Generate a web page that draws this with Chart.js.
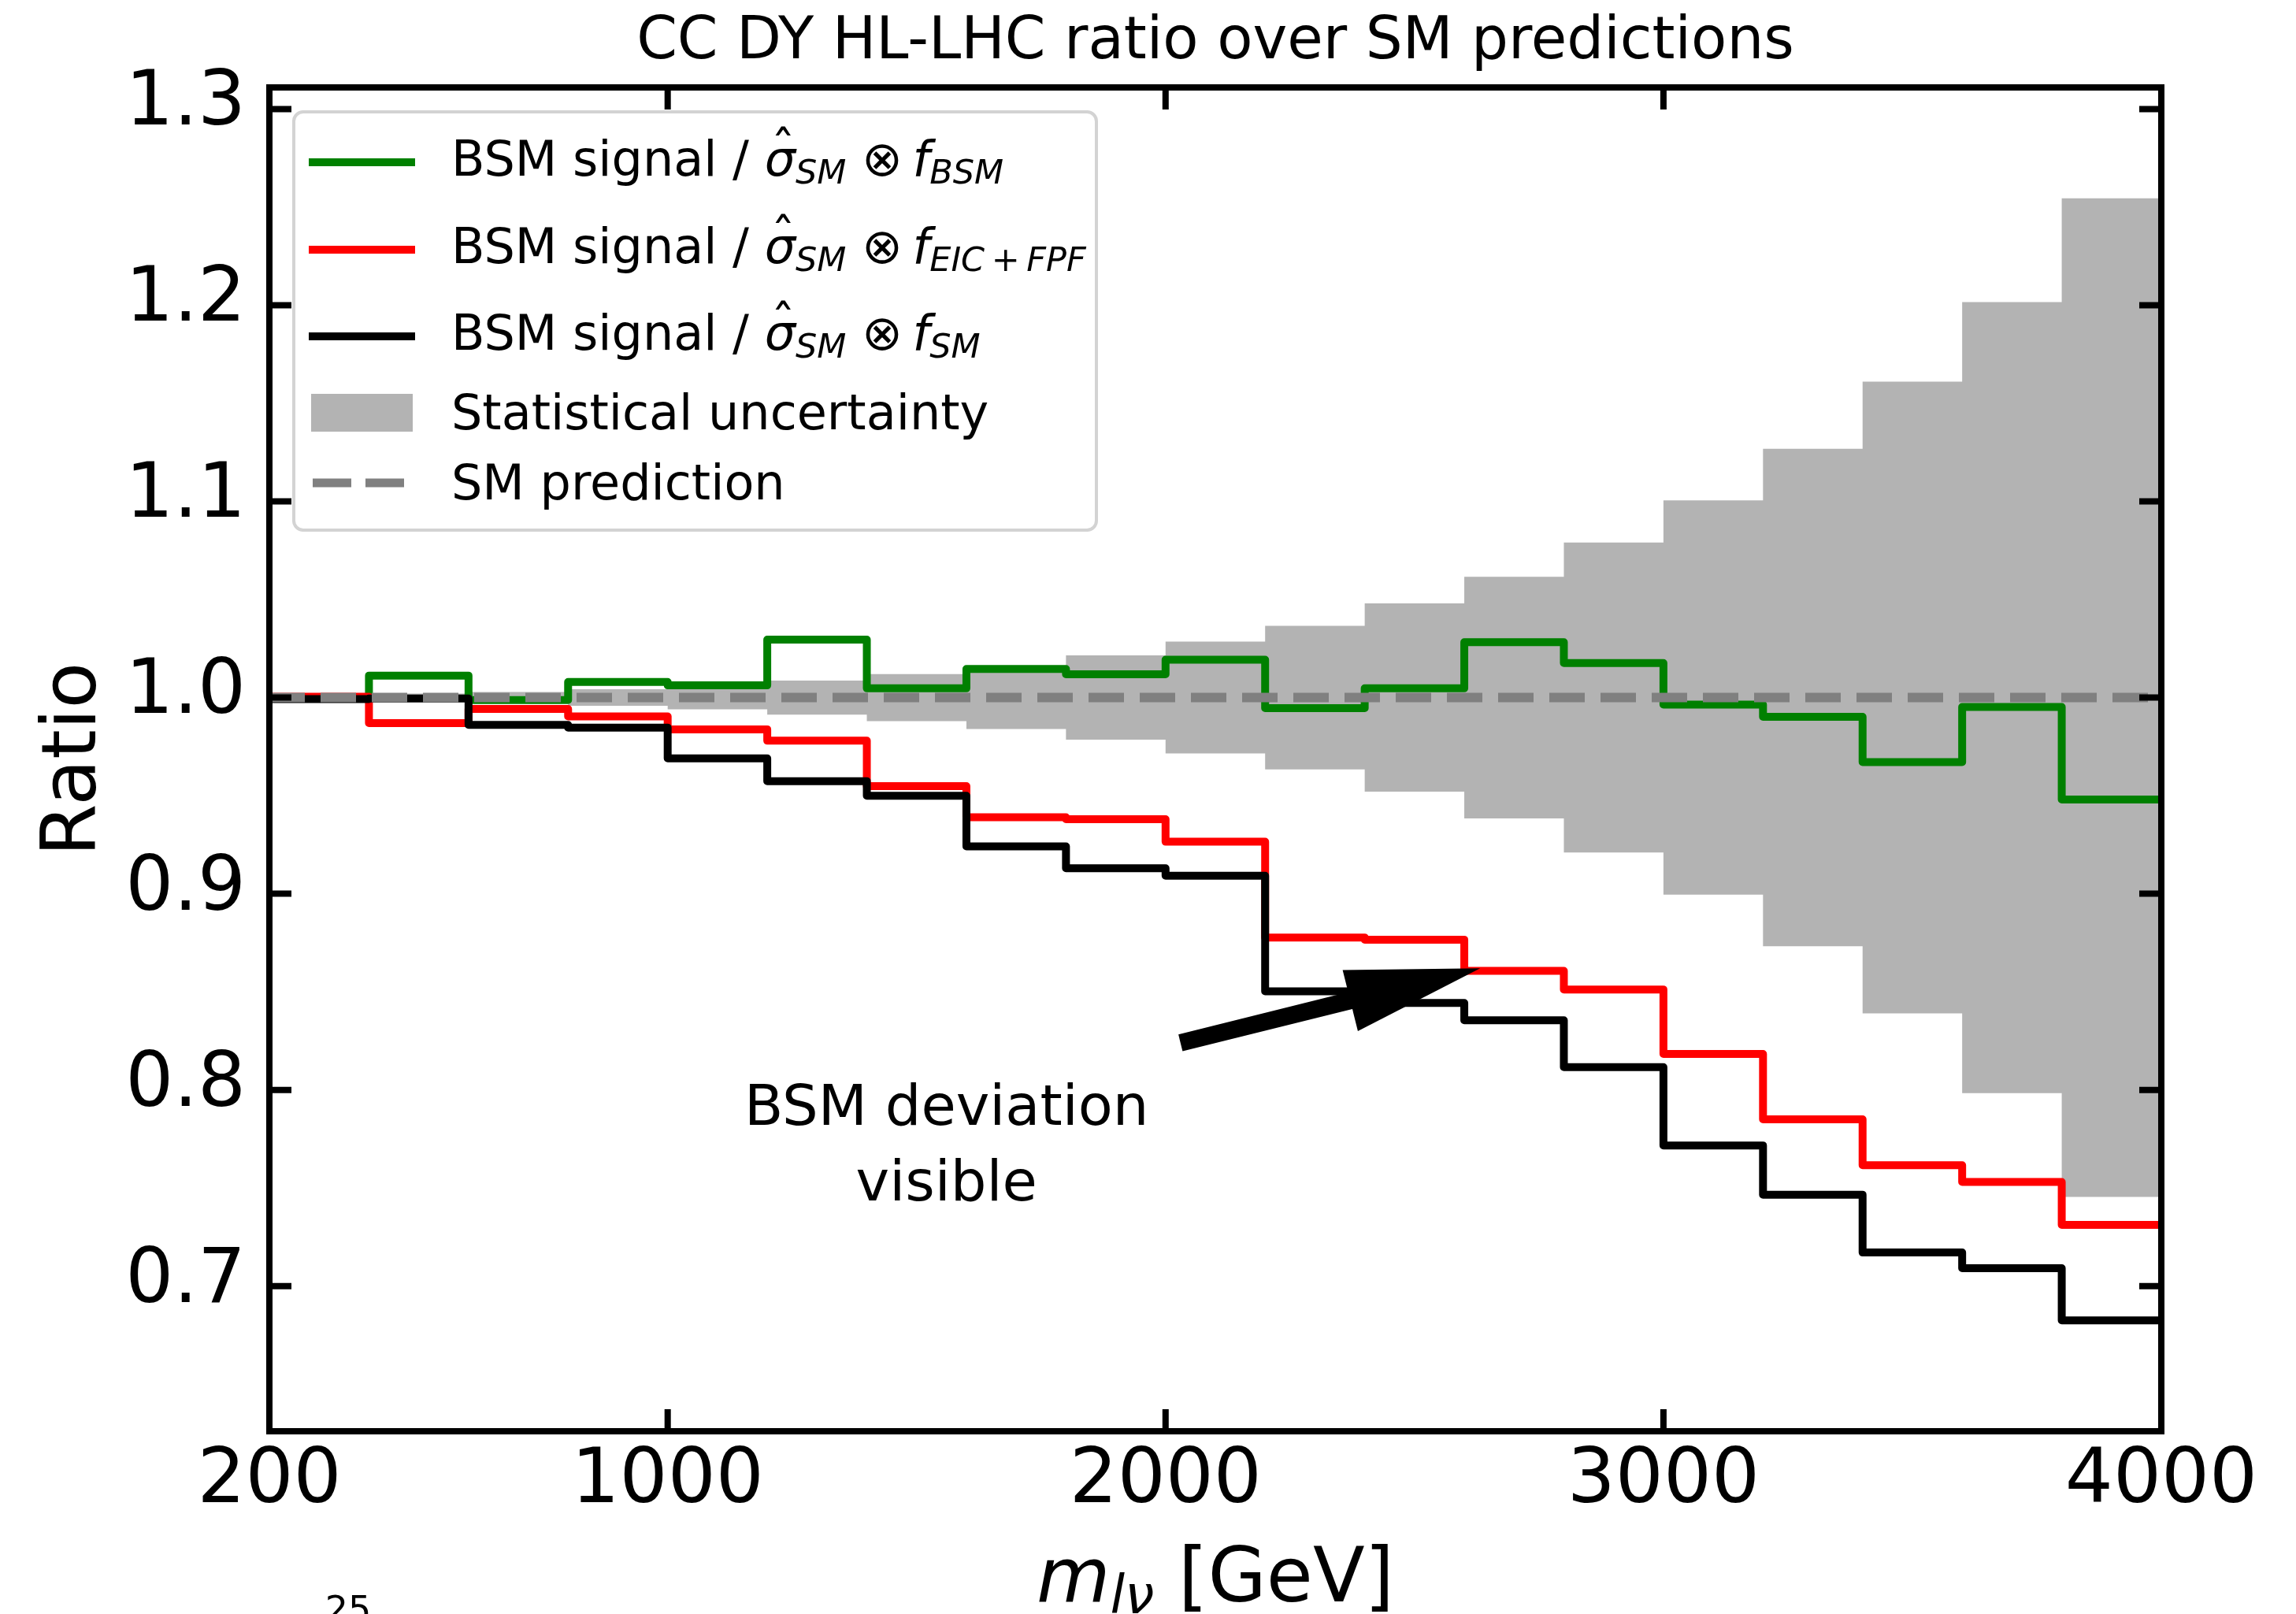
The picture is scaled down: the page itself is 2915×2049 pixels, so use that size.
<!DOCTYPE html>
<html lang="en">
<head>
  <meta charset="UTF-8">
  <title>CC DY HL-LHC ratio over SM predictions</title>
  <script src="https://cdn.jsdelivr.net/npm/chart.js"></script>
  <style>
    html, body { margin: 0; padding: 0; background: #fff; }
    #wrap { width: 2915px; height: 2049px; }
  </style>
</head>
<body>
  <div id="wrap">
    <canvas id="ratioChart" width="2915" height="2049"></canvas>
  </div>

  <script>
    // bin edges in m_lnu [GeV]
    const binEdges = [200, 400, 600, 800, 1000, 1200, 1400, 1600, 1800, 2000,
                      2200, 2400, 2600, 2800, 3000, 3200, 3400, 3600, 3800, 4000];

    // BSM signal / sigma_SM x f_BSM
    const ratioBSM = [1.0, 1.0112, 0.9987, 1.0079, 1.0062, 1.0295, 1.0047, 1.0146, 1.0119, 1.0193,
                      0.9946, 1.0047, 1.0282, 1.0176, 0.9964, 0.9902, 0.9671, 0.9952, 0.948];
    // BSM signal / sigma_SM x f_EIC+FPF
    const ratioEICFPF = [1.0004, 0.987, 0.9942, 0.9904, 0.9838, 0.978, 0.9548, 0.939, 0.938, 0.9265,
                         0.8777, 0.8766, 0.8607, 0.8512, 0.8183, 0.785, 0.7616, 0.7531, 0.7312];
    // BSM signal / sigma_SM x f_SM
    const ratioSM = [0.9992, 0.9995, 0.9861, 0.9847, 0.969, 0.9574, 0.9499, 0.9241, 0.913, 0.9092,
                     0.8503, 0.8443, 0.8355, 0.8116, 0.7717, 0.7466, 0.7171, 0.7091, 0.6825];
    // relative statistical uncertainty per bin
    const statUnc = [0.0015, 0.002, 0.0028, 0.0042, 0.006, 0.0087, 0.012, 0.016, 0.0215, 0.0285,
                     0.0366, 0.048, 0.0616, 0.079, 0.1005, 0.1268, 0.161, 0.2016, 0.2545];

    const xTicks = [200, 1000, 2000, 3000, 4000];
    const yTicks = [0.7, 0.8, 0.9, 1.0, 1.1, 1.2, 1.3];

    // annotation (data coordinates)
    const annText = { x: 1560, y: 0.782 };
    const arrowFrom = { x: 2030, y: 0.824 };
    const arrowTo = { x: 2632, y: 0.862 };

    const FONT = '"DejaVu Sans", "Liberation Sans", sans-serif';
    Chart.defaults.font.family = FONT;
    Chart.defaults.color = '#000';

    // histogram -> step points (value held until next edge)
    function stepPoints(vals) {
      const pts = vals.map((v, i) => ({ x: binEdges[i], y: v }));
      pts.push({ x: binEdges[vals.length], y: vals[vals.length - 1] });
      return pts;
    }

    const bandHigh = statUnc.map(u => 1 + u);
    const bandLow = statUnc.map(u => 1 - u);

    function histLine(vals, color, order) {
      return {
        data: stepPoints(vals),
        stepped: true,
        borderColor: color,
        borderWidth: 10,
        borderJoinStyle: 'round',
        borderCapStyle: 'butt',
        pointRadius: 0,
        fill: false,
        clip: 0,
        order: order
      };
    }

    // inward ticks on all sides + frame
    const framePlugin = {
      id: 'frame',
      afterDatasetsDraw(chart) {
        const ctx = chart.ctx;
        const a = chart.chartArea;
        const xs = chart.scales.x, ys = chart.scales.y;
        const tl = 28;
        ctx.save();
        ctx.strokeStyle = '#000';
        ctx.lineWidth = 8;
        ctx.lineCap = 'butt';
        xTicks.forEach(v => {
          const px = xs.getPixelForValue(v);
          ctx.beginPath();
          ctx.moveTo(px, a.bottom); ctx.lineTo(px, a.bottom - tl);
          ctx.moveTo(px, a.top); ctx.lineTo(px, a.top + tl);
          ctx.stroke();
        });
        yTicks.forEach(v => {
          const py = ys.getPixelForValue(v);
          ctx.beginPath();
          ctx.moveTo(a.left, py); ctx.lineTo(a.left + tl, py);
          ctx.moveTo(a.right, py); ctx.lineTo(a.right - tl, py);
          ctx.stroke();
        });
        ctx.strokeRect(a.left, a.top, a.right - a.left, a.bottom - a.top);
        ctx.restore();
      }
    };

    // arrow + "BSM deviation visible"
    const annotationPlugin = {
      id: 'annot',
      afterDatasetsDraw(chart) {
        const ctx = chart.ctx;
        const xs = chart.scales.x, ys = chart.scales.y;
        const x0 = xs.getPixelForValue(arrowFrom.x), y0 = ys.getPixelForValue(arrowFrom.y);
        const x1 = xs.getPixelForValue(arrowTo.x), y1 = ys.getPixelForValue(arrowTo.y);
        const ang = Math.atan2(y1 - y0, x1 - x0);
        const headLen = 170, headHalf = 40;
        const bx = x1 - headLen * Math.cos(ang), by = y1 - headLen * Math.sin(ang);
        ctx.save();
        ctx.strokeStyle = '#000';
        ctx.fillStyle = '#000';
        ctx.lineWidth = 22;
        ctx.beginPath();
        ctx.moveTo(x0, y0);
        ctx.lineTo(bx + 2 * Math.cos(ang), by + 2 * Math.sin(ang));
        ctx.stroke();
        ctx.beginPath();
        ctx.moveTo(x1, y1);
        ctx.lineTo(bx - headHalf * Math.sin(ang), by + headHalf * Math.cos(ang));
        ctx.lineTo(bx + headHalf * Math.sin(ang), by - headHalf * Math.cos(ang));
        ctx.closePath();
        ctx.fill();

        const tx = xs.getPixelForValue(annText.x), ty = ys.getPixelForValue(annText.y);
        ctx.font = '72px ' + FONT;
        ctx.textAlign = 'center';
        ctx.textBaseline = 'alphabetic';
        ctx.fillText('BSM deviation', tx, ty);
        ctx.fillText('visible', tx, ty + 96);
        ctx.restore();
      }
    };

    // draw a row of text runs (for math-like labels)
    function drawRuns(ctx, x, y, runs) {
      ctx.textAlign = 'left';
      ctx.textBaseline = 'alphabetic';
      runs.forEach(r => {
        ctx.font = r.font;
        ctx.fillText(r.t, x, y + (r.dy || 0));
        const w = ctx.measureText(r.t).width;
        if (r.hat) {
          ctx.save();
          ctx.textAlign = 'center';
          ctx.font = r.hatFont;
          ctx.fillText('\u02C6', x + w / 2 + 4, y - r.hatLift);
          ctx.restore();
        }
        x += w;
      });
      return x;
    }
    function runsWidth(ctx, runs) {
      let w = 0;
      runs.forEach(r => { ctx.font = r.font; w += ctx.measureText(r.t).width; });
      return w;
    }

    const LREG = '62px ' + FONT, LIT = 'italic 62px ' + FONT, LSUB = 'italic 43px ' + FONT;
    function sigmaRuns(sub) {
      return [
        { t: 'BSM signal / ', font: LREG },
        { t: '\u03C3', font: LIT, hat: true, hatFont: '62px ' + FONT, hatLift: 12 },
        { t: 'SM', font: LSUB, dy: 10 },
        { t: ' \u2297\u2009', font: LREG },
        { t: 'f', font: LIT },
        { t: sub, font: LSUB, dy: 10 }
      ];
    }
    const legendItems = [
      { kind: 'line', color: 'green', runs: sigmaRuns('BSM'), base: 81 },
      { kind: 'line', color: 'red', runs: sigmaRuns('EIC\u2009+\u2009FPF'), base: 192 },
      { kind: 'line', color: '#000', runs: sigmaRuns('SM'), base: 302 },
      { kind: 'patch', color: '#b3b3b3', runs: [{ t: 'Statistical uncertainty', font: LREG }], base: 403 },
      { kind: 'dash', color: '#808080', runs: [{ t: 'SM prediction', font: LREG }], base: 492 }
    ];

    const legendPlugin = {
      id: 'mplLegend',
      afterDraw(chart) {
        const ctx = chart.ctx;
        const a = chart.chartArea;
        const bx = a.left + 31, by = a.top + 31, bw = 1019, bh = 531;
        ctx.save();
        ctx.beginPath();
        ctx.roundRect(bx, by, bw, bh, 12);
        ctx.fillStyle = 'rgba(255,255,255,0.8)';
        ctx.fill();
        ctx.lineWidth = 4;
        ctx.strokeStyle = '#d3d3d3';
        ctx.stroke();

        ctx.fillStyle = '#000';
        legendItems.forEach(it => {
          const base = by + it.base;
          if (it.kind === 'line') {
            ctx.strokeStyle = it.color;
            ctx.lineWidth = 10;
            ctx.setLineDash([]);
            ctx.beginPath();
            ctx.moveTo(bx + 19, base - 17); ctx.lineTo(bx + 154, base - 17);
            ctx.stroke();
          } else if (it.kind === 'patch') {
            ctx.fillStyle = it.color;
            ctx.fillRect(bx + 22, base - 45, 129, 48);
          } else {
            ctx.strokeStyle = it.color;
            ctx.lineWidth = 11;
            ctx.setLineDash([49, 18]);
            ctx.beginPath();
            ctx.moveTo(bx + 24, base - 21); ctx.lineTo(bx + 154, base - 21);
            ctx.stroke();
            ctx.setLineDash([]);
          }
          ctx.fillStyle = '#000';
          drawRuns(ctx, bx + 200, base, it.runs);
        });
        ctx.restore();
      }
    };

    // title and axis titles
    const titlesPlugin = {
      id: 'titles',
      afterDraw(chart) {
        const ctx = chart.ctx;
        const a = chart.chartArea;
        const cx = (a.left + a.right) / 2;
        ctx.save();
        ctx.fillStyle = '#000';
        ctx.textAlign = 'center';
        ctx.textBaseline = 'alphabetic';
        ctx.font = '74px ' + FONT;
        ctx.fillText('CC DY HL-LHC ratio over SM predictions', cx, 74);

        // y title
        ctx.save();
        ctx.translate(121, (a.top + a.bottom) / 2);
        ctx.rotate(-Math.PI / 2);
        ctx.font = '96px ' + FONT;
        ctx.fillText('Ratio', 0, 0);
        ctx.restore();

        // x title: m_{l nu} [GeV]
        const runs = [
          { t: 'm', font: 'italic 96px ' + FONT },
          { t: 'l\u03BD', font: 'italic 67px ' + FONT, dy: 15 },
          { t: ' [GeV]', font: '96px ' + FONT }
        ];
        const w = runsWidth(ctx, runs);
        drawRuns(ctx, cx - w / 2, 2033, runs);

        // page number fragment cut by the bottom edge
        ctx.font = '46px ' + FONT;
        ctx.textAlign = 'center';
        ctx.fillText('25', 442, 2059);
        ctx.restore();
      }
    };

    const ctx = document.getElementById('ratioChart').getContext('2d');
    new Chart(ctx, {
      type: 'line',
      data: {
        datasets: [
          {
            label: 'Statistical uncertainty',
            data: stepPoints(bandHigh),
            stepped: true,
            borderColor: 'rgba(0,0,0,0)',
            borderWidth: 0,
            backgroundColor: '#b3b3b3',
            pointRadius: 0,
            fill: '+1',
            clip: 0,
            order: 10
          },
          {
            label: 'band low',
            data: stepPoints(bandLow),
            stepped: true,
            borderColor: 'rgba(0,0,0,0)',
            borderWidth: 0,
            pointRadius: 0,
            fill: false,
            clip: 0,
            order: 11
          },
          Object.assign(histLine(ratioBSM, 'green', 4), { label: 'f_BSM' }),
          Object.assign(histLine(ratioEICFPF, 'red', 3), { label: 'f_EIC+FPF' }),
          Object.assign(histLine(ratioSM, '#000', 2), { label: 'f_SM' }),
          {
            label: 'SM prediction',
            data: [{ x: binEdges[0], y: 1.0 }, { x: binEdges[binEdges.length - 1], y: 1.0 }],
            borderColor: '#808080',
            borderWidth: 12,
            borderDash: [45, 20],
            pointRadius: 0,
            fill: false,
            clip: 0,
            order: 0
          }
        ]
      },
      options: {
        responsive: false,
        animation: false,
        devicePixelRatio: 1,
        layout: { padding: { top: 111, right: 171, left: 0, bottom: 0 } },
        plugins: {
          legend: { display: false },
          tooltip: { enabled: false },
          title: { display: false }
        },
        scales: {
          x: {
            type: 'linear',
            min: 200,
            max: 4000,
            afterBuildTicks: s => { s.ticks = xTicks.map(v => ({ value: v })); },
            afterFit: s => { s.height = 232; },
            grid: { display: false, drawTicks: false },
            border: { display: false },
            ticks: {
              font: { size: 96, lineHeight: 1.2 },
              color: '#000',
              padding: 7,
              maxRotation: 0,
              autoSkip: false,
              callback: v => String(v)
            }
          },
          y: {
            type: 'linear',
            min: 0.626,
            max: 1.311,
            afterBuildTicks: s => { s.ticks = yTicks.map(v => ({ value: v })); },
            afterFit: s => { s.width = 342; },
            grid: { display: false, drawTicks: false },
            border: { display: false },
            ticks: {
              font: { size: 96, lineHeight: 1.2 },
              color: '#000',
              padding: 30,
              labelOffset: -5,
              autoSkip: false,
              callback: v => v.toFixed(1)
            }
          }
        }
      },
      plugins: [framePlugin, annotationPlugin, legendPlugin, titlesPlugin]
    });
  </script>
</body>
</html>
